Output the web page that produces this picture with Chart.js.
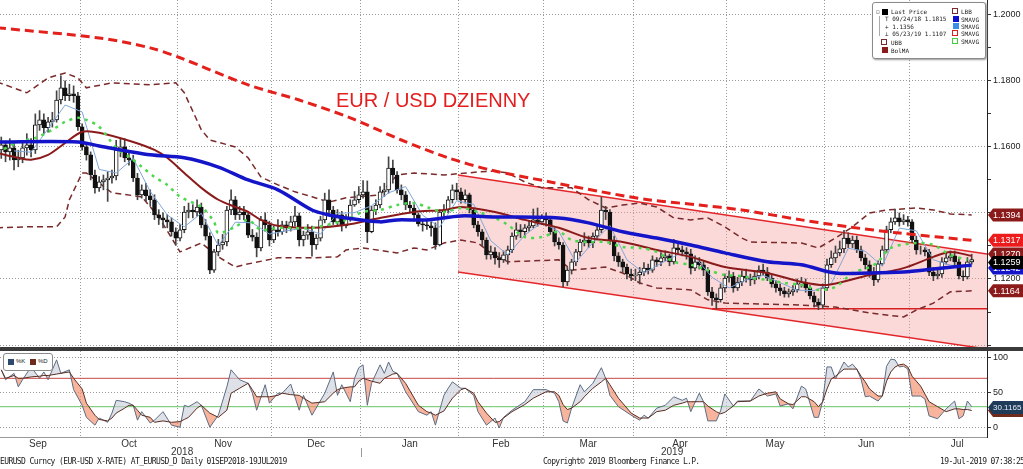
<!DOCTYPE html>
<html>
<head>
<meta charset="utf-8">
<script src="https://cdn.jsdelivr.net/npm/chart.js"></script>
<style>
  body { margin: 0; background: #fff; width: 1023px; height: 469px; overflow: hidden; position: relative; font-family: "Liberation Sans", Arial, sans-serif; }
  canvas { position: absolute; left: 0; }
  #main { top: 0; }
  #stoch { top: 351px; }
  .sep { position: absolute; left: 0; top: 347px; width: 1023px; height: 4px; background: #3a3a3a; }
  .title { position: absolute; left: 336px; top: 89px; font-size: 20px; color: #e31e1e; white-space: nowrap; }
  .bb { position: absolute; top: 457px; font-family: "DejaVu Sans Mono", monospace; font-size: 8px; letter-spacing: -0.6px; color: #222; white-space: nowrap; }
  .year { position: absolute; top: 446px; font-size: 10px; color: #333; }
  .ydiv { position: absolute; left: 361px; top: 448px; width: 1px; height: 9px; background: #999; }
  .lg { position: absolute; left: 872px; top: 2px; width: 112px; height: 55px; background: #fff; border: 1px solid #8a8a8a; border-radius: 3px; box-shadow: 1px 1px 2px #999; font-family: "DejaVu Sans Mono", monospace; font-size: 6px; color: #222; }
  .lg span, .sl span { position: absolute; white-space: nowrap; line-height: 7px; }
  .sq { width: 6px; height: 6px; }
  .dsh { width: 4px; height: 4px; border: 1px dashed; }
  .sl { position: absolute; left: 3px; top: 353px; width: 48px; height: 16px; background: #fff; border: 1px solid #8a8a8a; border-radius: 3px; font-size: 6px; color: #222; }
</style>
</head>
<body>
<canvas id="main" width="1023" height="347"></canvas>
<div class="sep"></div>
<canvas id="stoch" width="1023" height="99"></canvas>

<div class="title">EUR / USD DZIENNY</div>

<div class="lg">
  <span style="left:3px;top:5px;color:#888">&#8863;</span>
  <span class="sq" style="left:9px;top:6px;background:#000"></span>
  <span style="left:18px;top:5px">Last Price</span>
  <span style="left:6px;top:13px;width:1px;height:20px;background:#aaa"></span>
  <span style="left:12px;top:12px">T 09/24/18 1.1815</span>
  <span style="left:12px;top:20px">+ 1.1356</span>
  <span style="left:12px;top:27px">&#8869; 05/23/19 1.1107</span>
  <span class="dsh" style="left:8px;top:36px;border-color:#7a2a2a"></span>
  <span style="left:18px;top:36px">UBB</span>
  <span class="sq" style="left:9px;top:44px;background:#8b1a1a"></span>
  <span style="left:18px;top:44px">BolMA</span>
  <span class="dsh" style="left:79px;top:5px;border-color:#7a2a2a"></span>
  <span style="left:88px;top:5px">LBB</span>
  <span class="sq" style="left:80px;top:13px;background:#1010d0"></span>
  <span style="left:88px;top:13px">SMAVG</span>
  <span class="sq" style="left:80px;top:20px;background:#3a8ee8"></span>
  <span style="left:88px;top:20px">SMAVG</span>
  <span class="dsh" style="left:79px;top:27px;border-color:#e02020"></span>
  <span style="left:88px;top:27px">SMAVG</span>
  <span class="dsh" style="left:79px;top:35px;border-color:#44cc44"></span>
  <span style="left:88px;top:35px">SMAVG</span>
</div>

<div class="sl">
  <span class="sq" style="left:4px;top:5px;background:#2c4a6e"></span>
  <span style="left:12px;top:4px">%K</span>
  <span class="sq" style="left:26px;top:5px;background:#6e2a1a"></span>
  <span style="left:34px;top:4px">%D</span>
</div>

<div class="ydiv"></div>
<div class="year" style="left:171px">2018</div>
<div class="year" style="left:661px">2019</div>
<div class="bb" style="left:0">EURUSD Curncy (EUR-USD X-RATE) AT_EURUSD_D  Daily 01SEP2018-19JUL2019</div>
<div class="bb" style="left:543px;letter-spacing:-0.7px">Copyright&copy; 2019 Bloomberg Finance L.P.</div>
<div class="bb" style="left:940px">19-Jul-2019 07:38:25</div>

<script>
// daily candles, index 0 = 03 Sep 2018 ... 229 = 19 Jul 2019
const opens = [
  1.1600,1.1591,1.1606,1.1585,1.1597,1.1561,1.1567,1.1597,1.1606,1.1591,
  1.1667,1.1682,1.1658,1.1676,1.1682,1.1742,1.1779,1.1755,1.1761,1.1755,
  1.1661,1.1600,1.1576,1.1515,1.1476,1.1494,1.1500,1.1506,1.1512,1.1591,
  1.1600,1.1567,1.1561,1.1506,1.1455,1.1470,1.1452,1.1440,1.1394,1.1385,
  1.1379,1.1373,1.1343,1.1324,1.1349,1.1403,1.1409,1.1403,1.1418,1.1364,
  1.1330,1.1227,1.1282,1.1303,1.1312,1.1409,1.1440,1.1394,1.1403,1.1394,
  1.1333,1.1327,1.1294,1.1379,1.1364,1.1318,1.1349,1.1343,1.1364,1.1355,
  1.1373,1.1391,1.1318,1.1333,1.1343,1.1303,1.1324,1.1379,1.1440,1.1409,
  1.1373,1.1394,1.1361,1.1385,1.1424,1.1440,1.1455,1.1464,1.1343,1.1409,
  1.1424,1.1464,1.1470,1.1536,1.1515,1.1470,1.1455,1.1424,1.1415,1.1394,
  1.1367,1.1364,1.1361,1.1355,1.1303,1.1403,1.1409,1.1440,1.1470,1.1464,
  1.1440,1.1455,1.1409,1.1364,1.1343,1.1318,1.1273,1.1282,1.1264,1.1258,
  1.1273,1.1288,1.1330,1.1349,1.1343,1.1355,1.1361,1.1379,1.1373,1.1385,
  1.1379,1.1343,1.1312,1.1303,1.1191,1.1227,1.1252,1.1282,1.1312,1.1318,
  1.1309,1.1330,1.1349,1.1409,1.1403,1.1318,1.1270,1.1252,1.1236,1.1215,
  1.1209,1.1212,1.1221,1.1233,1.1227,1.1258,1.1252,1.1264,1.1270,1.1252,
  1.1294,1.1288,1.1282,1.1276,1.1233,1.1252,1.1243,1.1227,1.1161,1.1143,
  1.1137,1.1173,1.1203,1.1209,1.1173,1.1191,1.1209,1.1203,1.1197,1.1209,
  1.1227,1.1221,1.1203,1.1185,1.1173,1.1164,1.1155,1.1161,1.1167,1.1185,
  1.1188,1.1173,1.1149,1.1130,1.1121,1.1173,1.1243,1.1264,1.1279,1.1291,
  1.1324,1.1306,1.1318,1.1288,1.1264,1.1243,1.1221,1.1197,1.1246,1.1288,
  1.1349,1.1373,1.1385,1.1373,1.1379,1.1373,1.1318,1.1288,1.1288,1.1282,
  1.1221,1.1209,1.1215,1.1252,1.1264,1.1270,1.1252,1.1209,1.1206,1.1252
];
const closes = [
  1.1591,1.1606,1.1585,1.1597,1.1561,1.1567,1.1597,1.1606,1.1591,1.1667,
  1.1682,1.1658,1.1676,1.1682,1.1742,1.1779,1.1755,1.1761,1.1755,1.1661,
  1.1600,1.1576,1.1515,1.1476,1.1494,1.1500,1.1506,1.1512,1.1591,1.1600,
  1.1567,1.1561,1.1506,1.1455,1.1470,1.1452,1.1440,1.1394,1.1385,1.1379,
  1.1373,1.1343,1.1324,1.1349,1.1403,1.1409,1.1403,1.1418,1.1364,1.1330,
  1.1227,1.1282,1.1303,1.1312,1.1409,1.1440,1.1394,1.1403,1.1394,1.1333,
  1.1327,1.1294,1.1379,1.1364,1.1318,1.1349,1.1343,1.1364,1.1355,1.1373,
  1.1391,1.1318,1.1333,1.1343,1.1303,1.1324,1.1379,1.1440,1.1409,1.1373,
  1.1394,1.1361,1.1385,1.1424,1.1440,1.1455,1.1464,1.1343,1.1409,1.1424,
  1.1464,1.1470,1.1536,1.1515,1.1470,1.1455,1.1424,1.1415,1.1394,1.1367,
  1.1364,1.1361,1.1355,1.1303,1.1403,1.1409,1.1440,1.1470,1.1464,1.1440,
  1.1455,1.1409,1.1364,1.1343,1.1318,1.1273,1.1282,1.1264,1.1258,1.1273,
  1.1288,1.1330,1.1349,1.1343,1.1355,1.1361,1.1379,1.1373,1.1385,1.1379,
  1.1343,1.1312,1.1303,1.1191,1.1227,1.1252,1.1282,1.1312,1.1318,1.1309,
  1.1330,1.1349,1.1409,1.1403,1.1318,1.1270,1.1252,1.1236,1.1215,1.1209,
  1.1212,1.1221,1.1233,1.1227,1.1258,1.1252,1.1264,1.1270,1.1252,1.1294,
  1.1288,1.1282,1.1276,1.1233,1.1252,1.1243,1.1227,1.1161,1.1143,1.1137,
  1.1173,1.1203,1.1209,1.1173,1.1191,1.1209,1.1203,1.1197,1.1209,1.1227,
  1.1221,1.1203,1.1185,1.1173,1.1164,1.1155,1.1161,1.1167,1.1185,1.1188,
  1.1173,1.1149,1.1130,1.1121,1.1173,1.1243,1.1264,1.1279,1.1291,1.1324,
  1.1306,1.1318,1.1288,1.1264,1.1243,1.1221,1.1197,1.1246,1.1288,1.1349,
  1.1373,1.1385,1.1373,1.1379,1.1373,1.1318,1.1288,1.1288,1.1282,1.1221,
  1.1209,1.1215,1.1252,1.1264,1.1270,1.1252,1.1209,1.1206,1.1252,1.1259
];
const highs = [
  1.1622,1.1630,1.1618,1.1625,1.1610,1.1590,1.1615,1.1640,1.1625,1.1700,
  1.1710,1.1700,1.1690,1.1705,1.1770,1.1815,1.1800,1.1790,1.1785,1.1765,
  1.1670,1.1612,1.1585,1.1530,1.1510,1.1515,1.1525,1.1530,1.1620,1.1625,
  1.1625,1.1590,1.1575,1.1520,1.1485,1.1490,1.1470,1.1455,1.1410,1.1400,
  1.1395,1.1385,1.1355,1.1365,1.1420,1.1430,1.1425,1.1440,1.1430,1.1380,
  1.1340,1.1290,1.1320,1.1335,1.1420,1.1470,1.1450,1.1420,1.1420,1.1405,
  1.1350,1.1340,1.1390,1.1400,1.1375,1.1360,1.1380,1.1375,1.1375,1.1390,
  1.1420,1.1400,1.1345,1.1365,1.1360,1.1335,1.1390,1.1460,1.1470,1.1420,
  1.1410,1.1405,1.1395,1.1440,1.1465,1.1480,1.1498,1.1497,1.1420,1.1440,
  1.1480,1.1490,1.1570,1.1560,1.1525,1.1485,1.1465,1.1435,1.1425,1.1400,
  1.1380,1.1375,1.1372,1.1370,1.1410,1.1425,1.1450,1.1485,1.1490,1.1475,
  1.1470,1.1460,1.1415,1.1375,1.1350,1.1325,1.1300,1.1295,1.1280,1.1285,
  1.1300,1.1340,1.1370,1.1365,1.1365,1.1375,1.1412,1.1415,1.1395,1.1400,
  1.1390,1.1355,1.1325,1.1310,1.1235,1.1260,1.1290,1.1320,1.1340,1.1330,
  1.1340,1.1360,1.1448,1.1420,1.1410,1.1330,1.1280,1.1260,1.1245,1.1230,
  1.1230,1.1235,1.1250,1.1245,1.1270,1.1265,1.1280,1.1285,1.1275,1.1320,
  1.1310,1.1300,1.1295,1.1290,1.1270,1.1265,1.1255,1.1235,1.1175,1.1155,
  1.1185,1.1215,1.1225,1.1220,1.1205,1.1225,1.1230,1.1215,1.1225,1.1240,
  1.1245,1.1235,1.1215,1.1195,1.1185,1.1175,1.1170,1.1180,1.1200,1.1205,
  1.1200,1.1180,1.1160,1.1140,1.1185,1.1260,1.1285,1.1300,1.1315,1.1347,
  1.1340,1.1330,1.1330,1.1300,1.1275,1.1255,1.1235,1.1255,1.1300,1.1360,
  1.1385,1.1412,1.1400,1.1395,1.1390,1.1380,1.1330,1.1300,1.1295,1.1290,
  1.1235,1.1230,1.1265,1.1280,1.1285,1.1285,1.1265,1.1225,1.1265,1.1275
];
const lows = [
  1.1570,1.1565,1.1555,1.1560,1.1530,1.1540,1.1552,1.1575,1.1570,1.1580,
  1.1650,1.1640,1.1645,1.1660,1.1675,1.1730,1.1740,1.1740,1.1735,1.1650,
  1.1590,1.1560,1.1500,1.1460,1.1465,1.1470,1.1435,1.1490,1.1500,1.1570,
  1.1555,1.1545,1.1495,1.1440,1.1445,1.1435,1.1420,1.1380,1.1365,1.1355,
  1.1355,1.1330,1.1302,1.1315,1.1340,1.1385,1.1385,1.1390,1.1355,1.1318,
  1.1216,1.1220,1.1270,1.1290,1.1300,1.1395,1.1380,1.1380,1.1380,1.1325,
  1.1315,1.1267,1.1285,1.1345,1.1300,1.1310,1.1330,1.1335,1.1340,1.1345,
  1.1360,1.1300,1.1300,1.1320,1.1269,1.1290,1.1315,1.1370,1.1395,1.1365,
  1.1360,1.1345,1.1355,1.1375,1.1420,1.1430,1.1445,1.1310,1.1340,1.1395,
  1.1415,1.1450,1.1460,1.1490,1.1460,1.1440,1.1410,1.1400,1.1375,1.1360,
  1.1345,1.1350,1.1330,1.1290,1.1300,1.1390,1.1400,1.1430,1.1440,1.1430,
  1.1430,1.1400,1.1355,1.1330,1.1300,1.1260,1.1260,1.1245,1.1235,1.1250,
  1.1245,1.1280,1.1320,1.1325,1.1330,1.1345,1.1355,1.1360,1.1365,1.1360,
  1.1335,1.1300,1.1290,1.1176,1.1180,1.1215,1.1240,1.1270,1.1300,1.1295,
  1.1295,1.1320,1.1340,1.1380,1.1305,1.1255,1.1238,1.1220,1.1200,1.1195,
  1.1195,1.1185,1.1210,1.1215,1.1220,1.1238,1.1240,1.1255,1.1240,1.1245,
  1.1275,1.1270,1.1260,1.1215,1.1225,1.1230,1.1210,1.1150,1.1120,1.1110,
  1.1130,1.1160,1.1190,1.1160,1.1165,1.1180,1.1190,1.1180,1.1185,1.1200,
  1.1210,1.1195,1.1175,1.1160,1.1150,1.1145,1.1145,1.1150,1.1160,1.1175,
  1.1160,1.1140,1.1115,1.1107,1.1110,1.1165,1.1235,1.1250,1.1270,1.1280,
  1.1295,1.1295,1.1280,1.1255,1.1230,1.1205,1.1180,1.1190,1.1240,1.1280,
  1.1340,1.1365,1.1360,1.1365,1.1360,1.1310,1.1275,1.1275,1.1270,1.1210,
  1.1195,1.1200,1.1205,1.1245,1.1255,1.1240,1.1200,1.1195,1.1200,1.1245
];

// studies (day index -> value)
const sma200Idx = [0, 24, 36, 43, 59, 71, 83, 95, 106, 116, 130, 142, 153, 165, 175, 189, 200, 212, 229];
const sma200 = [1.1961, 1.1930, 1.1900, 1.1870, 1.1788, 1.1742, 1.1688, 1.1621, 1.1567, 1.1530, 1.1494, 1.1464, 1.1440, 1.1424, 1.1409, 1.1379, 1.1358, 1.1339, 1.1317];

const sma100Idx = [0, 19, 24, 36, 44, 52, 59, 66, 74, 78, 82, 90, 94, 101, 109, 117, 132, 139, 147, 155, 163, 171, 181, 189, 197, 205, 213, 220, 229];
const sma100 = [1.1615, 1.1615, 1.1603, 1.1576, 1.1567, 1.1539, 1.1500, 1.1470, 1.1409, 1.1394, 1.1385, 1.1373, 1.1379, 1.1379, 1.1391, 1.1388, 1.1385, 1.1370, 1.1343, 1.1324, 1.1303, 1.1279, 1.1252, 1.1243, 1.1218, 1.1218, 1.1221, 1.1230, 1.1242];

const bolIdx = [0, 5, 8, 12, 16, 20, 24, 32, 37, 40, 44, 48, 52, 56, 59, 62, 66, 74, 82, 90, 98, 105, 109, 117, 124, 132, 139, 147, 155, 163, 171, 181, 189, 195, 205, 213, 220, 224, 229];
const bolMA = [1.1582, 1.1567, 1.1561, 1.1576, 1.1612, 1.1646, 1.1643, 1.1615, 1.1591, 1.1567, 1.1521, 1.1476, 1.1440, 1.1418, 1.1403, 1.1379, 1.1361, 1.1355, 1.1364, 1.1385, 1.1403, 1.1409, 1.1418, 1.1403, 1.1379, 1.1355, 1.1324, 1.1312, 1.1288, 1.1267, 1.1236, 1.1218, 1.1191, 1.1182, 1.1212, 1.1233, 1.1267, 1.1282, 1.1270];

const ubbIdx = [0, 7, 12, 16, 19, 21, 27, 36, 42, 44, 48, 50, 56, 59, 62, 66, 70, 74, 78, 82, 90, 94, 98, 105, 113, 117, 120, 124, 128, 135, 139, 143, 147, 151, 155, 159, 163, 167, 171, 175, 177, 189, 193, 197, 201, 205, 209, 216, 220, 224, 229];
const ubb = [1.1797, 1.1764, 1.1809, 1.1824, 1.1809, 1.1779, 1.1794, 1.1788, 1.1794, 1.1764, 1.1652, 1.1621, 1.1600, 1.1567, 1.1509, 1.1485, 1.1464, 1.1449, 1.1433, 1.1446, 1.1455, 1.1515, 1.1521, 1.1515, 1.1524, 1.1527, 1.1521, 1.1494, 1.1476, 1.1476, 1.1440, 1.1415, 1.1424, 1.1430, 1.1418, 1.1385, 1.1379, 1.1385, 1.1358, 1.1324, 1.1312, 1.1309, 1.1294, 1.1324, 1.1358, 1.1400, 1.1409, 1.1415, 1.1409, 1.1397, 1.1394];

const lbbIdx = [0, 7, 14, 16, 17, 20, 21, 27, 34, 38, 43, 48, 52, 56, 58, 66, 74, 80, 82, 86, 94, 98, 101, 105, 109, 113, 116, 120, 132, 135, 143, 147, 151, 155, 163, 167, 171, 189, 197, 201, 205, 213, 216, 220, 224, 229];
const lbb = [1.1355, 1.1358, 1.1358, 1.1388, 1.1440, 1.1521, 1.1521, 1.1461, 1.1449, 1.1388, 1.1282, 1.1309, 1.1267, 1.1236, 1.1243, 1.1264, 1.1264, 1.1267, 1.1288, 1.1294, 1.1279, 1.1294, 1.1288, 1.1309, 1.1318, 1.1309, 1.1279, 1.1252, 1.1258, 1.1227, 1.1236, 1.1218, 1.1188, 1.1173, 1.1167, 1.1137, 1.1127, 1.1121, 1.1115, 1.1106, 1.1097, 1.1085, 1.1106, 1.1127, 1.1161, 1.1164];

const greenIdx = [0, 5, 9, 13, 16, 19, 21, 24, 28, 31, 34, 37, 40, 43, 48, 51, 52, 56, 59, 62, 66, 74, 82, 86, 90, 94, 98, 101, 105, 109, 113, 117, 120, 124, 128, 132, 135, 139, 143, 147, 151, 155, 159, 163, 167, 171, 175, 177, 181, 185, 189, 193, 197, 201, 205, 207, 210, 216, 220, 224, 228];
const greenMA = [1.1582, 1.1615, 1.1627, 1.1652, 1.1676, 1.1688, 1.1682, 1.1661, 1.1597, 1.1570, 1.1540, 1.1509, 1.1485, 1.1449, 1.1418, 1.1373, 1.1339, 1.1358, 1.1379, 1.1349, 1.1355, 1.1355, 1.1379, 1.1403, 1.1409, 1.1424, 1.1430, 1.1418, 1.1403, 1.1415, 1.1403, 1.1385, 1.1364, 1.1327, 1.1327, 1.1343, 1.1318, 1.1312, 1.1312, 1.1297, 1.1294, 1.1282, 1.1252, 1.1243, 1.1227, 1.1212, 1.1209, 1.1203, 1.1197, 1.1188, 1.1182, 1.1167, 1.1176, 1.1218, 1.1236, 1.1252, 1.1294, 1.1309, 1.1303, 1.1273, 1.1258];

const fastIdx = [4, 8, 12, 16, 20, 24, 28, 32, 36, 40, 44, 48, 52, 56, 60, 64, 68, 72, 76, 80, 84, 88, 92, 96, 100, 104, 108, 112, 116, 120, 124, 128, 132, 136, 140, 144, 148, 152, 156, 160, 164, 168, 172, 176, 180, 184, 188, 192, 196, 200, 204, 208, 212, 216, 220, 224, 228, 229];
const fastMA = [1.1588, 1.1584, 1.1655, 1.1727, 1.1706, 1.1532, 1.1521, 1.1565, 1.1465, 1.1394, 1.1358, 1.1399, 1.1301, 1.1372, 1.1370, 1.1336, 1.1346, 1.1354, 1.1336, 1.1399, 1.1401, 1.1422, 1.1461, 1.1480, 1.1393, 1.1357, 1.1437, 1.1426, 1.1316, 1.1273, 1.1333, 1.1371, 1.1344, 1.1251, 1.1310, 1.1362, 1.1258, 1.1218, 1.1247, 1.1274, 1.1266, 1.1205, 1.1173, 1.1197, 1.1211, 1.1189, 1.1166, 1.1165, 1.1186, 1.1293, 1.1284, 1.1239, 1.1354, 1.1346, 1.1258, 1.1242, 1.1238, 1.1236];

// hand-drawn channel and support
const chanIdx = [108.3, 232.6];
const chanUpper = [1.1515, 1.1276];
const chanLower = [1.1221, 1.0988];
const supportIdx = [168, 232.6];
const support = [1.1110, 1.1110];

// stochastic
const stochIdx = [1,2,4,5,6,8,10,11,12,14,15,17,18,20,21,23,24,26,27,28,30,31,32,33,34,36,37,39,41,43,44,45,47,48,50,52,54,55,57,59,60,61,63,64,66,67,69,71,72,74,77,79,80,81,83,84,85,86,87,88,90,91,92,93,94,96,99,101,102,103,105,106,107,109,110,112,113,115,117,118,119,121,124,126,129,131,132,133,134,135,137,138,140,142,143,144,146,149,151,152,153,155,157,159,161,162,163,165,166,167,168,169,170,171,173,174,177,179,181,183,184,186,187,189,190,192,193,194,195,196,197,199,200,201,202,203,204,205,207,208,209,210,211,212,213,214,215,217,218,219,221,223,225,226,227,228,229];
const stochK = [82,68,77,58,68,86,70,79,68,96,77,82,54,32,15,4,14,8,21,39,37,35,32,11,23,7,11,23,4,1,32,30,37,32,1,18,58,82,68,63,49,25,61,35,49,49,62,25,46,18,49,79,46,61,37,70,85,89,32,63,89,77,93,80,77,51,23,18,23,4,46,56,65,56,56,46,23,4,14,0,15,25,37,54,54,49,37,10,7,28,61,51,63,85,70,46,30,18,11,18,14,28,32,44,39,42,23,49,37,10,10,10,24,48,31,38,38,55,45,48,31,34,27,59,55,15,15,38,86,86,69,93,86,90,83,69,44,45,38,45,87,97,96,86,87,83,45,45,41,17,13,27,38,13,17,38,30.1165];
const stochD = [82,70,74,70,70,72,73,74,74,76,77,79,70,55,35,18,12,10,14,21,28,32,32,25,18,15,8,10,8,9,12,15,28,32,21,15,25,49,56,63,54,44,44,44,46,49,47,46,42,35,37,49,54,56,58,58,66,70,68,66,63,70,73,76,77,63,32,23,21,18,24,33,42,54,56,49,37,21,8,9,14,23,33,42,51,51,46,33,26,28,37,44,56,65,70,61,42,21,14,14,14,23,25,32,35,37,37,37,37,31,27,23,20,22,31,37,38,45,49,51,41,34,33,44,44,37,30,37,55,69,73,83,83,83,83,73,65,55,45,45,66,79,86,89,90,86,73,59,48,37,30,23,27,27,26,26,24.6];
const overbought = [70, 70];
const oversold = [30, 30];
const fullIdx = [0.7, 232.6];

const monthEdges = [19.5, 42.5, 64.5, 85.5, 108.5, 128.5, 149.5, 171.5, 194.5, 214.5];
const monthMid = [9.6, 31, 53.1, 75, 97, 118.4, 138.9, 160.5, 182.8, 204.2, 225.6];
const monthNames = ['Sep', 'Oct', 'Nov', 'Dec', 'Jan', 'Feb', 'Mar', 'Apr', 'May', 'Jun', 'Jul'];
const priceTicks = [1.10, 1.11, 1.12, 1.13, 1.14, 1.15, 1.16, 1.17, 1.18, 1.19, 1.20];
const stochTicks = [0, 50, 100];

Chart.defaults.font.family = '"Liberation Sans", Arial, sans-serif';

const pts = (xs, ys) => xs.map((x, k) => ({ x: x, y: ys[k] }));
const days = closes.map((c, i) => i);
const wickData = days.map(i => ({ x: i, y: [lows[i], highs[i]] }));
const bodyData = days.map(i => ({ x: i, y: [opens[i], closes[i]] }));
const bodyFill = days.map(i => closes[i] >= opens[i] ? '#ffffff' : '#111111');

function drawTag(ctx, x, y, text, bg, fg, size) {
  ctx.save();
  ctx.fillStyle = bg;
  ctx.beginPath();
  ctx.moveTo(x, y);
  ctx.lineTo(x + 5, y - 6.5);
  ctx.lineTo(1023, y - 6.5);
  ctx.lineTo(1023, y + 6.5);
  ctx.lineTo(x + 5, y + 6.5);
  ctx.closePath();
  ctx.fill();
  ctx.fillStyle = fg;
  ctx.font = (size || 9) + 'px "Liberation Sans", Arial';
  ctx.textBaseline = 'middle';
  ctx.fillText(text, x + 5, y + 0.5);
  ctx.restore();
}

// tag colours and the small nudges Bloomberg applies so labels do not sit on top of each other
const tagStyle = [
  { src: () => ubb[ubb.length - 1], bg: '#8b1a1a', dy: 0 },
  { src: () => sma200[sma200.length - 1], bg: '#ec1c1c', dy: 0 },
  { src: () => bolMA[bolMA.length - 1], bg: '#8b1a1a', dy: -2 },
  { src: () => sma100[sma100.length - 1], bg: '#1414c8', dy: 3 },
  { src: () => closes[closes.length - 1], bg: '#000000', dy: 3 },
  { src: () => lbb[lbb.length - 1], bg: '#8b1a1a', dy: 0 }
];

const mainTags = {
  id: 'mainTags',
  afterDraw(chart) {
    const y = chart.scales.y, ctx = chart.ctx, x = chart.chartArea.right + 1;
    tagStyle.forEach(t => {
      const v = t.src();
      drawTag(ctx, x, y.getPixelForValue(v) + t.dy, v.toFixed(4), t.bg, '#fff', 9);
    });
  }
};

const stochTags = {
  id: 'stochTags',
  afterDraw(chart) {
    const y = chart.scales.y, ctx = chart.ctx, x = chart.chartArea.right + 1;
    const d = stochD[stochD.length - 1], k = stochK[stochK.length - 1];
    drawTag(ctx, x, y.getPixelForValue(d), d.toFixed(4), '#6e2a1a', '#fff', 8);
    drawTag(ctx, x, y.getPixelForValue(k) + 1, k.toFixed(4), '#1e3c5a', '#e8eef4', 8);
  }
};

const dotted = [1, 2];
const gridX = {
  type: 'linear', min: 0.7, max: 232.6, offset: false, bounds: 'data',
  grid: { offset: false, drawTicks: false, color: c => monthEdges.includes(c.tick.value) ? '#9a9a9a' : 'rgba(0,0,0,0)' },
  border: { display: false, dash: dotted },
  ticks: { display: false, autoSkip: false, maxRotation: 0 },
  afterBuildTicks: s => { s.ticks = monthEdges.map(v => ({ value: v })); },
  afterFit: s => { s.height = 0; s.paddingLeft = 0; s.paddingRight = 0; }
};

new Chart(document.getElementById('main'), {
  type: 'bar',
  data: {
    datasets: [
      { type: 'line', data: pts(chanIdx, chanUpper), borderColor: '#e3262a', borderWidth: 1.5, pointRadius: 0, fill: '+1', backgroundColor: 'rgba(246,160,160,0.4)', order: 20 },
      { type: 'line', data: pts(chanIdx, chanLower), borderColor: '#e3262a', borderWidth: 1.5, pointRadius: 0, fill: false, order: 19 },
      { type: 'line', data: pts(supportIdx, support), borderColor: '#d82020', borderWidth: 1.5, pointRadius: 0, order: 18 },
      { type: 'line', data: pts(ubbIdx, ubb), borderColor: '#7a2a2a', borderWidth: 1.5, borderDash: [6, 4], pointRadius: 0, order: 16 },
      { type: 'line', data: pts(lbbIdx, lbb), borderColor: '#7a2a2a', borderWidth: 1.5, borderDash: [6, 4], pointRadius: 0, order: 15 },
      { data: wickData, backgroundColor: '#444', barThickness: 1, grouped: false, order: 12 },
      { data: bodyData, backgroundColor: bodyFill, borderColor: '#111', borderWidth: 1, borderSkipped: false, barThickness: 4, grouped: false, order: 11 },
      { type: 'line', data: pts(fastIdx, fastMA), borderColor: '#7ea6d8', borderWidth: 1, pointRadius: 0, order: 6 },
      { type: 'line', data: pts(bolIdx, bolMA), borderColor: '#8b1a1a', borderWidth: 2, pointRadius: 0, tension: 0.3, order: 5 },
      { type: 'line', data: pts(greenIdx, greenMA), borderColor: '#4cd84c', borderWidth: 2.5, borderDash: [3, 5], pointRadius: 0, tension: 0.3, order: 4 },
      { type: 'line', data: pts(sma100Idx, sma100), borderColor: '#1414c8', borderWidth: 3.5, pointRadius: 0, tension: 0.3, order: 3 },
      { type: 'line', data: pts(sma200Idx, sma200), borderColor: '#e3201b', borderWidth: 3, borderDash: [9, 5], pointRadius: 0, tension: 0.3, order: 2 }
    ]
  },
  options: {
    responsive: false, animation: false, devicePixelRatio: 1,
    layout: { padding: 0 },
    plugins: { legend: { display: false }, tooltip: { enabled: false } },
    scales: {
      x: gridX,
      y: {
        position: 'right', min: 1.0994, max: 1.2045, bounds: 'data', beginAtZero: false,
        afterBuildTicks: s => { s.ticks = priceTicks.map(v => ({ value: v })); },
        afterFit: s => { s.width = 36; s.paddingTop = 0; s.paddingBottom = 0; },
        grid: {
          tickLength: 4, tickColor: '#333',
          color: c => (Math.round(c.tick.value * 100) % 2 === 0) ? '#9a9a9a' : 'rgba(0,0,0,0)'
        },
        border: { color: '#222', dash: dotted },
        ticks: {
          padding: 2, color: '#222', font: { size: 9 }, autoSkip: false,
          callback: v => (Math.round(v * 100) % 2 === 0 && v > 1.105) ? v.toFixed(4) : ''
        }
      }
    }
  },
  plugins: [mainTags]
});

new Chart(document.getElementById('stoch'), {
  type: 'line',
  data: {
    datasets: [
      { data: pts(stochIdx, stochK), borderColor: '#5c6c82', borderWidth: 1, pointRadius: 0,
        fill: { target: '+1', above: 'rgba(200,206,216,0.6)', below: 'rgba(244,140,105,0.65)' }, order: 2 },
      { data: pts(stochIdx, stochD), borderColor: '#5a2e22', borderWidth: 1, pointRadius: 0, order: 1 },
      { data: pts(fullIdx, overbought), borderColor: '#c84848', borderWidth: 1, pointRadius: 0, order: 3 },
      { data: pts(fullIdx, oversold), borderColor: '#66c466', borderWidth: 1, pointRadius: 0, order: 3 }
    ]
  },
  options: {
    responsive: false, animation: false, devicePixelRatio: 1,
    layout: { padding: 0 },
    plugins: { legend: { display: false }, tooltip: { enabled: false } },
    scales: {
      x: {
        type: 'linear', min: 0.7, max: 232.6, bounds: 'data',
        afterBuildTicks: s => { s.ticks = monthEdges.concat(monthMid).sort((a, b) => a - b).map(v => ({ value: v })); },
        afterFit: s => { s.height = 13; s.paddingLeft = 0; s.paddingRight = 0; },
        grid: { drawTicks: false, color: c => monthEdges.includes(c.tick.value) ? '#9a9a9a' : 'rgba(0,0,0,0)' },
        border: { color: '#999', dash: dotted },
        ticks: {
          padding: 1, color: '#333', font: { size: 10 }, autoSkip: false, maxRotation: 0,
          callback: v => { const k = monthMid.indexOf(v); return k >= 0 ? monthNames[k] : ''; }
        }
      },
      y: {
        position: 'right', min: -12.7, max: 108.5, bounds: 'data',
        afterBuildTicks: s => { s.ticks = stochTicks.map(v => ({ value: v })); },
        afterFit: s => { s.width = 36; s.paddingTop = 0; s.paddingBottom = 0; },
        grid: { tickLength: 4, tickColor: '#333', color: '#9a9a9a' },
        border: { color: '#222', dash: dotted },
        ticks: { padding: 2, color: '#222', font: { size: 9 }, autoSkip: false, callback: v => String(v) }
      }
    }
  },
  plugins: [stochTags]
});
</script>
</body>
</html>
